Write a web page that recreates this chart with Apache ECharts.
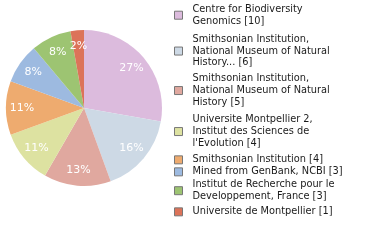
<!DOCTYPE html>
<html><head><meta charset="utf-8">
<script src="https://cdn.jsdelivr.net/npm/echarts@6/dist/echarts.min.js"></script>
<style>html,body{margin:0;padding:0;background:#fff}#c{width:380px;height:240px}</style>
</head><body><div id="c"></div>
<script>
var names = [
  'Centre for Biodiversity\nGenomics [10]',
  'Smithsonian Institution,\nNational Museum of Natural\nHistory... [6]',
  'Smithsonian Institution,\nNational Museum of Natural\nHistory [5]',
  'Universite Montpellier 2,\nInstitut des Sciences de\nl\'Evolution [4]',
  'Smithsonian Institution [4]',
  'Mined from GenBank, NCBI [3]',
  'Institut de Recherche pour le\nDeveloppement, France [3]',
  'Universite de Montpellier [1]'
];
var values = [10, 6, 5, 4, 4, 3, 3, 1];
var colors = ['#dcbbdd', '#cdd9e5', '#e0a89f', '#dde2a1', '#eeab6f', '#9dbae0', '#9dc472', '#dc7359'];
// layout only: top of each legend entry
var legendTops = [3.5, 33.5, 73, 114, 154, 166, 179, 206];

var total = values.reduce(function(a,b){return a+b;},0);
var data = names.map(function(n,i){return {name:n, value:values[i]};});
var legends = names.map(function(n,i){
  return {
    orient:'vertical', left:174, top:legendTops[i], padding:0,
    itemWidth:8, itemHeight:8, icon:'rect',
    itemStyle:{borderColor:'#777', borderWidth:1},
    textStyle:{fontFamily:'DejaVu Sans', fontSize:9.8, color:'#1a1a1a', lineHeight:11.7, padding:[0,0,0,5]},
    data:[n]
  };
});
var chart = echarts.init(document.getElementById('c'));
chart.setOption({
  animation:false,
  color: colors,
  legend: legends,
  series:[{
    type:'pie', center:[84,108], radius:[0,78], startAngle:90, clockwise:true,
    label:{show:false}, labelLine:{show:false},
    data:data
  },{
    type:'pie', center:[84,108], radius:[40,78], startAngle:90, clockwise:true,
    silent:true, legendHoverLink:false,
    itemStyle:{color:'transparent'},
    labelLine:{show:false},
    label:{show:true, position:'inside', color:'#fff', fontFamily:'DejaVu Sans', fontSize:11,
      formatter:function(p){return Math.floor(p.value/total*100)+'%';}},
    data:data
  }]
});
</script></body></html>
